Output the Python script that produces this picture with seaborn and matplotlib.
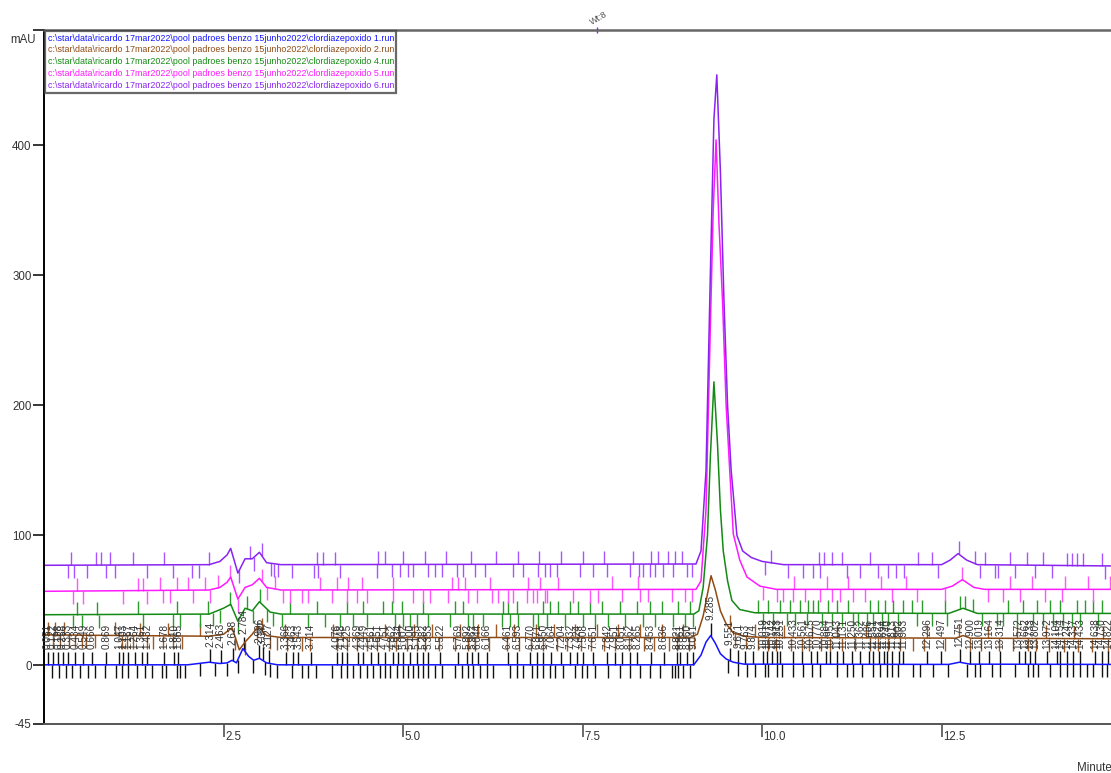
import numpy as np
import pandas as pd
import matplotlib
matplotlib.use('Agg')
import matplotlib.pyplot as plt
import seaborn as sns
from matplotlib.lines import Line2D

# chromatogram traces (time in minutes, signal in mAU)
blue_t = [0.0, 2.0, 2.3, 2.45, 2.55, 2.62, 2.68, 2.77, 2.85, 2.92, 3.0, 3.1, 3.25,
          9.05, 9.15, 9.22, 9.285, 9.35, 9.42, 9.5, 9.6, 9.75, 12.6, 12.75, 12.9, 14.86]
blue_v = [0.5, 0.5, 2.5, 1.5, 2.0, 4.0, 2.0, 13.0, 7.0, 4.0, 5.5, 2.0, 0.5,
          0.5, 8.0, 18.0, 23.0, 17.0, 9.0, 5.0, 2.5, 1.0, 0.8, 2.5, 1.0, 0.8]

brown_t = [0.0, 2.3, 2.5, 2.62, 2.72, 2.8, 2.9, 2.98, 3.1, 3.3, 9.0, 9.1, 9.18, 9.24,
           9.29, 9.35, 9.42, 9.5, 9.6, 9.75, 10.0, 12.7, 12.8, 12.9, 14.86]
brown_v = [23.5, 22.5, 24.0, 29.0, 12.0, 18.0, 24.0, 30.0, 23.0, 21.5, 21.5, 24.0, 38.0, 55.0,
           69.0, 58.0, 42.0, 32.0, 25.0, 22.5, 21.5, 21.0, 23.0, 21.0, 20.5]

green_t = [0.0, 2.3, 2.5, 2.6, 2.7, 2.8, 2.9, 3.0, 3.15, 3.3, 9.05, 9.12, 9.18, 9.24, 9.28,
           9.33, 9.38, 9.42, 9.46, 9.52, 9.58, 9.69, 9.9, 12.6, 12.8, 13.0, 14.86]
green_v = [39.0, 39.5, 44.0, 47.0, 34.0, 44.0, 42.0, 49.0, 41.0, 39.5, 39.5, 42.0, 60.0, 100.0, 160.0,
           218.0, 170.0, 120.0, 88.0, 65.0, 50.0, 43.0, 40.5, 40.0, 44.0, 40.0, 40.0]

magenta_t = [0.0, 2.3, 2.45, 2.55, 2.6, 2.7, 2.8, 2.9, 3.0, 3.1, 3.3, 9.08, 9.15, 9.22, 9.28,
             9.32, 9.36, 9.4, 9.45, 9.5, 9.55, 9.6, 9.69, 9.79, 9.97, 10.2, 12.5, 12.65, 12.79,
             12.95, 13.1, 14.86]
magenta_v = [57.0, 58.0, 60.0, 64.0, 68.0, 51.0, 60.0, 62.0, 67.0, 60.0, 58.0, 58.5, 65.0, 120.0, 260.0,
             350.0, 404.0, 340.0, 280.0, 200.0, 150.0, 101.0, 81.0, 68.0, 61.0, 58.5, 58.5, 61.0, 66.0,
             60.0, 58.5, 58.5]

purple_t = [0.0, 2.3, 2.45, 2.55, 2.6, 2.7, 2.8, 2.9, 3.0, 3.1, 3.3, 9.08, 9.15, 9.22, 9.28,
            9.33, 9.37, 9.42, 9.47, 9.52, 9.57, 9.65, 9.73, 9.85, 10.0, 10.3, 12.5, 12.62, 12.73,
            12.85, 13.0, 14.86]
purple_v = [77.0, 77.5, 80.0, 85.0, 90.0, 71.0, 82.0, 82.0, 87.0, 79.0, 77.5, 78.0, 88.0, 150.0, 300.0,
            420.0, 454.0, 380.0, 280.0, 200.0, 150.0, 100.0, 88.0, 83.0, 80.0, 77.5, 77.5, 81.0, 86.0,
            81.0, 77.5, 76.5]

# labelled peaks of run 1 (black up-ticks with retention time text)
peak_times = [0.051, 0.122, 0.198, 0.258, 0.333, 0.434, 0.549, 0.666, 0.869, 1.047, 1.103, 1.167,
              1.264, 1.361, 1.432, 1.678, 1.810, 1.865, 2.314, 2.463, 2.628, 2.784, 2.996, 3.047,
              3.127, 3.366, 3.463, 3.543, 3.714, 4.076, 4.148, 4.225, 4.369, 4.449, 4.561, 4.651,
              4.751, 4.862, 4.934, 5.002, 5.100, 5.193, 5.282, 5.353, 5.522, 5.769, 5.892, 5.962,
              6.044, 6.166, 6.461, 6.593, 6.770, 6.871, 6.950, 7.064, 7.204, 7.332, 7.424, 7.508,
              7.651, 7.842, 7.951, 8.051, 8.162, 8.265, 8.453, 8.636, 8.821, 8.861, 8.960, 9.041,
              9.285, 9.551, 9.671, 9.763, 9.874, 10.019, 10.072, 10.142, 10.213, 10.251, 10.433,
              10.561, 10.675, 10.770, 10.884, 10.951, 11.043, 11.131, 11.250, 11.362, 11.486,
              11.551, 11.622, 11.694, 11.740, 11.813, 11.902, 11.963, 12.296, 12.497, 12.751,
              12.900, 13.019, 13.164, 13.314, 13.572, 13.662, 13.733, 13.802, 13.972, 14.104,
              14.154, 14.247, 14.337, 14.433, 14.638, 14.730, 14.822]

# black down-ticks under run 1 (peak start / end)
black_down = [0.11, 0.21, 0.31, 0.39, 0.50, 0.61, 0.71, 0.85, 1.00, 1.09, 1.17, 1.29, 1.41, 1.50,
              1.64, 1.70, 1.85, 1.89, 1.96, 2.17, 2.38, 2.55, 2.70, 2.91, 3.08, 3.15, 3.24, 3.45,
              3.59, 3.68, 3.79, 4.01, 4.14, 4.22, 4.30, 4.40, 4.50, 4.58, 4.68, 4.75, 4.82, 4.92,
              5.0, 5.07, 5.14, 5.21, 5.28, 5.35, 5.45, 5.54, 5.72, 5.82, 5.91, 5.98, 6.07, 6.17,
              6.25, 6.49, 6.59, 6.67, 6.80, 6.87, 6.95, 7.05, 7.12, 7.23, 7.40, 7.49, 7.56, 7.67,
              7.86, 8.02, 8.16, 8.30, 8.44, 8.58, 8.75, 8.79, 8.83, 8.90, 9.0, 9.53, 9.67, 9.79,
              9.90, 10.04, 10.08, 10.21, 10.28, 10.43, 10.57, 10.70, 10.81, 11.04, 11.18, 11.27,
              11.39, 11.55, 11.64, 11.74, 11.81, 11.89, 12.10, 12.20, 12.38, 12.59, 12.86, 12.97,
              13.04, 13.20, 13.31, 13.52, 13.70, 13.77, 13.84, 14.01, 14.15, 14.25, 14.33, 14.43,
              14.53, 14.61, 14.74, 14.81]

# integration markers on the other runs
brown_up = [0.06, 0.15, 0.28, 0.99, 1.34, 1.73, 2.17, 3.04, 3.36, 4.03, 4.75, 4.95, 5.15, 5.40,
            5.80, 6.05, 6.30, 6.55, 6.85, 7.10, 7.40, 7.70, 8.00, 8.30, 8.60, 8.90, 9.55, 9.90,
            10.30, 10.70, 11.05, 11.45, 11.85, 12.3, 12.75, 13.15, 13.55, 13.95, 14.35, 14.75]
brown_down = [0.13, 0.22, 0.35, 0.43, 0.53, 0.58, 0.71, 1.09, 1.16, 1.24, 1.43, 1.52, 1.66, 1.80,
              1.92, 2.66, 2.80, 2.97, 3.15, 3.24, 3.38, 3.59, 3.70, 4.08, 4.22, 4.36, 4.50, 4.64,
              4.80, 4.90, 5.05, 5.20, 5.30, 5.50, 5.72, 5.90, 6.00, 6.20, 6.45, 6.62, 6.78, 6.95,
              7.15, 7.28, 7.48, 7.62, 7.80, 7.95, 8.15, 8.35, 8.50, 8.70, 8.82, 8.98, 9.05, 9.62,
              9.78, 9.95, 10.08, 10.2, 10.4, 10.55, 10.66, 10.82, 10.95, 11.12, 11.3, 11.5, 11.62,
              11.75, 11.92, 12.1, 12.25, 12.55, 12.9, 13.05, 13.3, 13.5, 13.7, 13.82, 14.0, 14.2,
              14.4, 14.6, 14.82]

green_up = [0.46, 0.74, 1.31, 1.85, 2.28, 2.59, 2.83, 3.01, 3.43, 3.80, 4.22, 4.44, 4.72, 4.85,
            4.99, 5.28, 5.72, 5.84, 6.39, 6.46, 6.59, 6.95, 7.05, 7.16, 7.33, 7.44, 7.60, 7.77,
            8.02, 8.26, 8.44, 8.61, 8.83, 9.0, 9.94, 10.08, 10.25, 10.39, 10.53, 10.64, 10.71,
            10.78, 10.92, 11.04, 11.20, 11.50, 11.62, 11.71, 11.82, 11.96, 12.09, 12.23, 12.55,
            12.76, 12.83, 12.94, 13.43, 13.64, 13.83, 14.01, 14.15, 14.39, 14.5, 14.61, 14.74]
green_down = [0.40, 0.53, 0.77, 1.38, 1.80, 1.89, 2.17, 2.35, 2.45, 2.70, 2.91, 3.10, 3.19, 3.31,
              3.68, 3.91, 4.12, 4.30, 4.50, 4.89, 5.00, 5.10, 5.19, 5.35, 5.65, 5.91, 5.97, 6.11,
              6.38, 6.49, 6.60, 6.81, 6.88, 7.0, 7.26, 7.51, 7.67, 7.86, 8.09, 8.34, 8.51, 8.76,
              8.93, 9.04, 10.01, 10.15, 10.35, 10.46, 10.63, 10.84, 10.97, 11.11, 11.27, 11.34,
              11.46, 11.55, 11.67, 11.76, 11.89, 12.16, 12.37, 12.58, 13.06, 13.27, 13.36, 13.55,
              13.77, 13.91, 14.05, 14.19, 14.32, 14.43, 14.68]

magenta_up = [0.46, 1.31, 1.38, 1.62, 1.85, 2.01, 2.24, 2.42, 2.59, 3.04, 3.22, 3.84, 4.08, 4.23,
              4.43, 4.86, 5.68, 5.77, 5.86, 6.21, 6.74, 6.91, 7.16, 7.91, 8.27, 10.45, 10.9, 11.2,
              11.65, 12.0, 12.79, 13.45, 13.76, 14.22, 14.54, 14.85]
magenta_down = [0.41, 0.55, 1.10, 1.43, 1.66, 1.76, 2.08, 2.31, 2.70, 3.10, 3.33, 3.43, 3.59, 3.68,
                4.01, 4.22, 4.36, 4.50, 4.86, 5.14, 5.28, 5.38, 5.63, 5.91, 6.03, 6.24, 6.32, 6.46,
                6.53, 6.73, 6.81, 6.87, 6.98, 7.0, 7.37, 7.60, 7.72, 8.05, 8.30, 8.41, 8.75, 8.93,
                9.03, 10.01, 10.21, 10.29, 10.43, 10.6, 10.81, 10.97, 11.09, 11.27, 11.43, 11.81,
                12.16, 12.55, 13.15, 13.36, 13.59, 13.94, 14.18, 14.61]

purple_up = [0.38, 0.72, 0.80, 0.92, 1.24, 1.67, 2.30, 2.87, 3.04, 3.80, 3.89, 4.05, 4.65, 4.75,
             5.0, 5.3, 5.6, 5.95, 6.3, 6.6, 6.9, 7.2, 7.5, 7.8, 8.2, 8.45, 8.55, 8.69, 8.79, 8.89,
             10.13, 10.8, 10.86, 10.97, 11.11, 11.5, 12.17, 12.37, 12.74, 12.97, 13.11, 13.45,
             13.69, 13.91, 14.25, 14.32, 14.39, 14.47, 14.74]
purple_down = [0.33, 0.42, 0.60, 0.86, 0.99, 1.43, 1.80, 2.06, 2.16, 2.72, 2.92, 3.16, 3.20, 3.26,
               3.45, 3.76, 3.82, 4.12, 4.64, 4.85, 4.96, 5.07, 5.14, 5.35, 5.45, 5.54, 5.75, 5.84,
               6.00, 6.14, 6.53, 6.67, 6.88, 6.98, 7.05, 7.14, 7.46, 7.65, 7.84, 8.16, 8.29, 8.34,
               8.44, 8.51, 8.62, 8.76, 8.96, 9.03, 10.04, 10.36, 10.57, 10.71, 10.81, 11.18, 11.36,
               11.62, 11.76, 11.87, 11.98, 12.45, 13.04, 13.25, 13.29, 13.52, 13.80, 14.04, 14.78]

run_names = ['1', '2', '4', '5', '6']
run_colors = ['#1414ff', '#8f4a14', '#138a13', '#ff1aff', '#8a22f0']
tick_colors = ['#1414ff', '#9a5a28', '#2a9a2a', '#ff55ff', '#a455ff']
path = 'c:\\star\\data\\ricardo 17mar2022\\pool padroes benzo 15junho2022\\clordiazepoxido {}.run'

yticks = [-45, 0, 100, 200, 300, 400]
xticks = [2.5, 5.0, 7.5, 10.0, 12.5]
XMAX, YMIN, YMAX = 14.86, -45, 488.5
TK = 10  # marker length in mAU

sns.set_style('white')
plt.rcParams['font.family'] = ['Liberation Sans', 'DejaVu Sans']

traces = [(blue_t, blue_v), (brown_t, brown_v), (green_t, green_v),
          (magenta_t, magenta_v), (purple_t, purple_v)]
frames = []
for name, (t, v) in zip(run_names, traces):
    frames.append(pd.DataFrame({'time': t, 'mAU': v, 'run': name}))
df = pd.concat(frames, ignore_index=True)

fig = plt.figure(figsize=(11.11, 7.73), dpi=100)
ax = fig.add_axes([44 / 1111, 49 / 773, 1 - 44 / 1111, 694 / 773])

# markers first so traces sit on top
marks = [(brown_up, brown_down), (green_up, green_down),
         (magenta_up, magenta_down), (purple_up, purple_down)]
for (t, v), (up, dn), c in zip(traces[1:], marks, tick_colors[1:]):
    yu = np.interp(up, t, v)
    yd = np.interp(dn, t, v)
    ax.vlines(up, yu, yu + TK, color=c, lw=1.0)
    ax.vlines(dn, yd - TK, yd, color=c, lw=1.0)

yb = np.interp(peak_times, blue_t, blue_v)
ax.vlines(peak_times, yb, yb + TK, color='#111111', lw=1.0)
ax.vlines(black_down, np.interp(black_down, blue_t, blue_v) - TK,
          np.interp(black_down, blue_t, blue_v), color='#111111', lw=1.0)
for pt, y in zip(peak_times, yb):
    ax.text(pt, y + TK + 2, '%.3f' % pt, rotation=90, ha='center', va='bottom',
            fontsize=7.2, color='#333333')

sns.lineplot(data=df, x='time', y='mAU', hue='run', palette=run_colors,
             estimator=None, sort=False, legend=False, lw=1.1, ax=ax)

ax.set_xlim(0, XMAX)
ax.set_ylim(YMIN, YMAX)
ax.set_xlabel('')
ax.set_ylabel('')

ax.spines['right'].set_visible(False)
ax.spines['left'].set_color('black')
ax.spines['left'].set_linewidth(1.4)
ax.spines['bottom'].set_color('#555555')
ax.spines['bottom'].set_linewidth(1.4)
ax.spines['top'].set_color('#666666')
ax.spines['top'].set_linewidth(1.8)

ax.set_yticks(yticks + [YMAX])
ax.set_yticklabels([str(y) for y in yticks] + [''])
ax.tick_params(axis='y', direction='out', length=8, width=1.1, color='black',
               labelsize=8.3, labelcolor='#333333', pad=1, left=True)
ax.set_xticks(xticks)
ax.set_xticklabels([])
ax.tick_params(axis='x', direction='out', length=9, width=1.1, color='#444444', bottom=True)
for xt in xticks:
    ax.text(xt + 0.02, -0.019, '%.1f' % xt, transform=ax.get_xaxis_transform(),
            ha='left', va='center', fontsize=8.3, color='#333333')

fig.text(10 / 1111, 1 - 40 / 773, 'mAU', fontsize=8.3, color='#333333', va='center', ha='left')
fig.text(1077 / 1111, 1 - 768 / 773, 'Minutes', fontsize=8.3, color='#333333', va='center', ha='left')

# Wt:8 event mark on the top frame
ax.plot([7.70], [YMAX], marker='|', color='#8a22f0', ms=4, clip_on=False)
ax.annotate('Wt:8', xy=(7.64, YMAX), xytext=(0, 2), textcoords='offset points',
            rotation=30, rotation_mode='anchor', ha='left', va='bottom',
            fontsize=6.5, color='#555555', annotation_clip=False)

handles = [Line2D([], [], color=c, lw=0) for c in run_colors]
leg = ax.legend(handles, [path.format(n) for n in run_names], loc='upper left',
                bbox_to_anchor=(0.0, 1.0), handlelength=0, handletextpad=0,
                labelcolor=run_colors, fontsize=6.4, labelspacing=0.33,
                frameon=True, fancybox=False, borderpad=0.25, borderaxespad=0.15)
leg.get_frame().set_edgecolor('#444444')
leg.get_frame().set_linewidth(1.6)

fig.savefig('out.png', dpi=100)
